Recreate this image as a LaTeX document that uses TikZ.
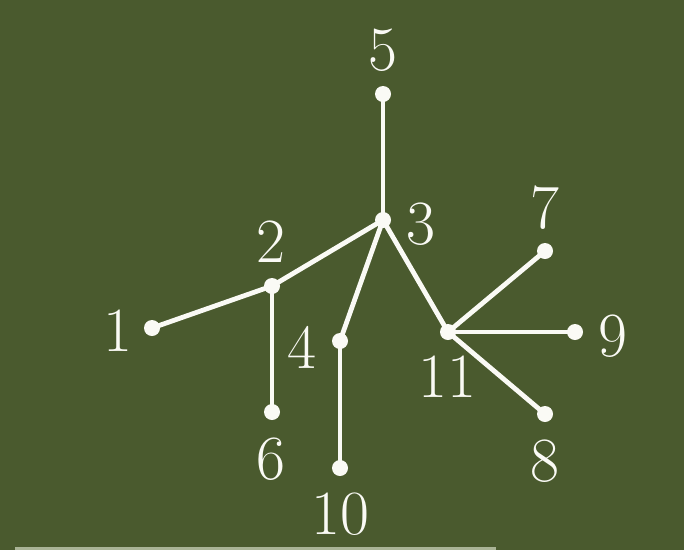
\documentclass[tikz,border=0pt]{standalone}
\usepackage{xcolor}
\definecolor{board}{RGB}{74,90,46}
\definecolor{chalk}{RGB}{250,250,245}
\definecolor{rim}{RGB}{170,180,150}
\begin{document}
\begin{tikzpicture}[x=1pt,y=-1pt,
  vert/.style={circle,fill=chalk,inner sep=0pt,minimum size=16pt},
  edge/.style={draw=chalk,line width=4.8pt},
  lab/.style={text=chalk,font=\fontsize{63}{63}\selectfont,inner sep=0pt,anchor=center}]
\fill[board] (0,0) rectangle (684,550);
\useasboundingbox (0,0) rectangle (684,550);
\draw[rim,line width=3pt] (15,548) -- (496,548);
\coordinate (c5) at (383,94);
\coordinate (c3) at (383,220);
\coordinate (c2) at (272,286);
\coordinate (c1) at (152,328);
\coordinate (c6) at (272,412);
\coordinate (c4) at (340,341);
\coordinate (c10) at (340,468);
\coordinate (c11) at (448,332);
\coordinate (c7) at (545,251);
\coordinate (c9) at (575,332);
\coordinate (c8) at (545,414);
\draw[edge] (c5) -- (c3);
\draw[edge] (c3) -- (c2);
\draw[edge] (c2) -- (c1);
\draw[edge] (c2) -- (c6);
\draw[edge] (c3) -- (c4);
\draw[edge] (c4) -- (c10);
\draw[edge] (c3) -- (c11);
\draw[edge] (c11) -- (c7);
\draw[edge] (c11) -- (c9);
\draw[edge] (c11) -- (c8);
\foreach \n in {5,3,2,1,6,4,10,11,7,9,8} \node[vert] (v\n) at (c\n) {};
\node[lab] (l5) at (383,50) {5};
\node[lab] (l3) at (421,224) {3};
\node[lab] (l2) at (271,242) {2};
\node[lab] (l1) at (118,331) {1};
\node[lab] (l6) at (271,459) {6};
\node[lab] (l4) at (302,347) {4};
\node[lab] (l10) at (340,514) {10};
\node[lab] (l11) at (447,377) {11};
\node[lab] (l7) at (545,208) {7};
\node[lab] (l9) at (613,336) {9};
\node[lab] (l8) at (545,461) {8};
\end{tikzpicture}
\end{document}
